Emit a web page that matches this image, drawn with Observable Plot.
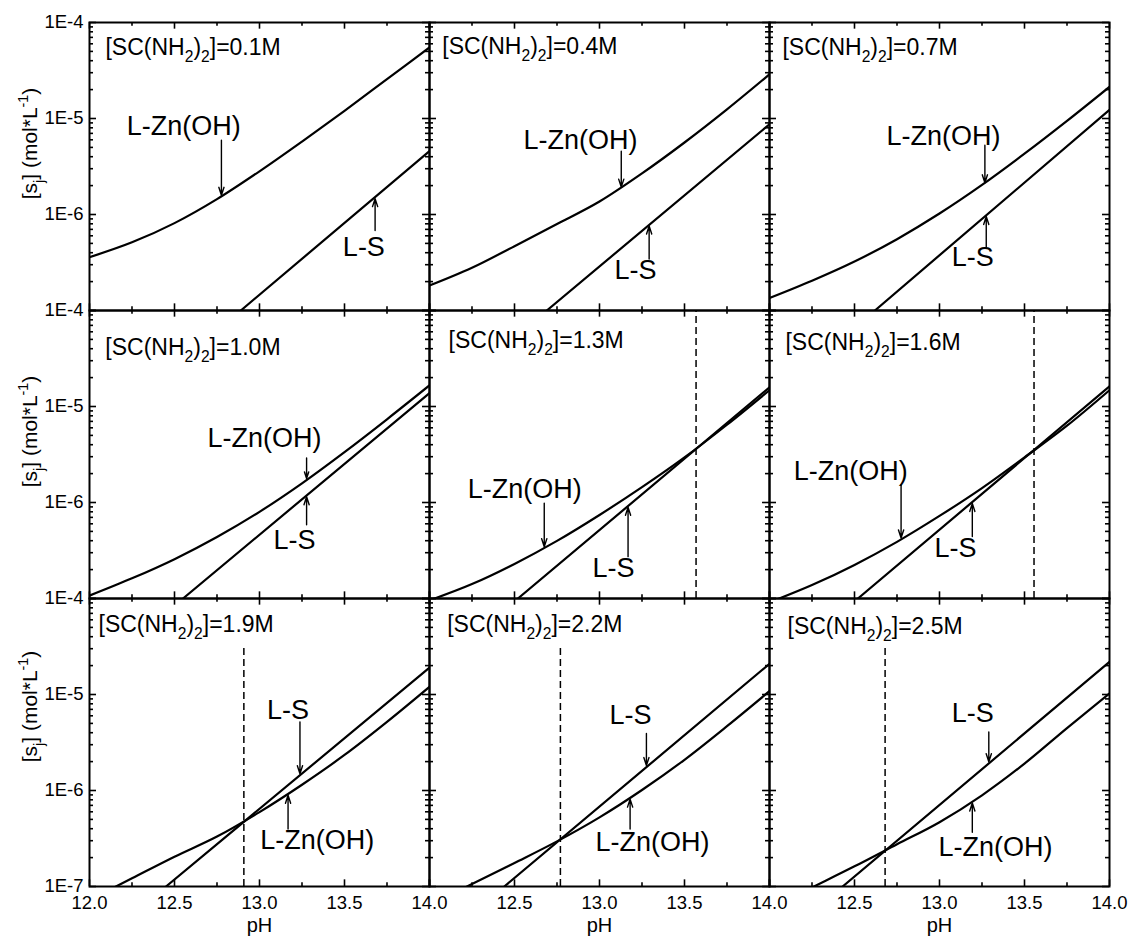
<!DOCTYPE html>
<html>
<head>
<meta charset="utf-8">
<script src="https://cdn.jsdelivr.net/npm/d3@7"></script>
<script src="https://cdn.jsdelivr.net/npm/@observablehq/plot@0.6"></script>
<style>
  html, body { margin: 0; padding: 0; background: #fff; }
  #chart { width: 1130px; height: 938px; }
</style>
</head>
<body>
<div id="chart"></div>
<script>
// ---------------- data ----------------
const concentrations = ["0.1", "0.4", "0.7", "1.0", "1.3", "1.6", "1.9", "2.2", "2.5"]; // [SC(NH2)2], M
const phGrid = [12.0, 12.25, 12.5, 12.75, 13.0, 13.25, 13.5, 13.75, 14.0];

// log10 [s_j] of the L-Zn(OH) curve at phGrid, one array per panel
const znOH_01 = [-6.445, -6.29, -6.09, -5.84, -5.55, -5.24, -4.92, -4.59, -4.26];
const znOH_04 = [-6.74, -6.555, -6.33, -6.10, -5.865, -5.572, -5.25, -4.905, -4.54];
const znOH_07 = [-6.87, -6.69, -6.49, -6.257, -5.99, -5.692, -5.367, -5.025, -4.67];
const znOH_10 = [-6.97, -6.79, -6.59, -6.359, -6.097, -5.80, -5.475, -5.133, -4.78];
const znOH_13 = [-7.02, -6.85, -6.64, -6.40, -6.13, -5.84, -5.53, -5.19, -4.83];
const znOH_16 = [-7.04, -6.86, -6.65, -6.41, -6.14, -5.85, -5.53, -5.20, -4.83];
const znOH_19 = [-7.14, -6.915, -6.69, -6.48, -6.225, -5.94, -5.63, -5.285, -4.92];
const znOH_22 = [-7.19, -6.975, -6.755, -6.53, -6.28, -5.995, -5.68, -5.33, -4.965];
const znOH_25 = [-7.23, -7.01, -6.79, -6.56, -6.33, -6.05, -5.72, -5.35, -4.99];
const znOHSeries = [znOH_01, znOH_04, znOH_07, znOH_10, znOH_13, znOH_16, znOH_19, znOH_22, znOH_25];

// L-S line: pH where it enters at 1E-7, and log10 value at pH 14
const lsStartPH = [12.89, 12.69, 12.62, 12.55, 12.52, 12.52, 12.45, 12.44, 12.43];
const lsLogAt14 = [-5.34, -5.06, -4.91, -4.86, -4.80, -4.79, -4.72, -4.68, -4.66];

// dashed verticals at the crossing points (panel index, pH, log10 top)
const dashPanel = [4, 5, 6, 7, 8];
const dashPH = [13.568, 13.556, 12.908, 12.77, 12.68];
const dashTopLog = [-4.0, -4.0, -4.52, -4.52, -4.48];

// annotations (data coordinates: pH, log10 [s_j])
const titlePH  = [12.094, 12.075, 12.076, 12.093, 12.112, 12.094, 12.053, 12.104, 12.106];
const titleLog = [-4.261, -4.251, -4.261, -4.387, -4.313, -4.334, -4.272, -4.272, -4.293];

const znLabelPH  = [12.555, 12.888, 13.024, 13.029, 12.56, 12.478, 13.339, 13.312, 13.329];
const znLabelLog = [-5.087, -5.226, -5.191, -5.327, -5.867, -5.675, -6.522, -6.539, -6.591];
const znArrowPH   = [12.776, 13.128, 13.267, 13.277, 12.675, 12.774, 13.168, 13.18, 13.193];
const znArrowTail = [-5.226, -5.341, -5.278, -5.536, -6.006, -5.815, -6.401, -6.401, -6.435];
const znArrowTip  = [-5.80, -5.715, -5.67, -5.75, -6.46, -6.37, -6.05, -6.09, -6.13];

const lsLabelPH  = [13.614, 13.212, 13.196, 13.206, 13.082, 13.094, 13.168, 13.183, 13.196];
const lsLabelLog = [-6.34, -6.584, -6.445, -6.396, -6.685, -6.476, -5.163, -5.215, -5.198];
const lsArrowPH   = [13.68, 13.292, 13.275, 13.277, 13.168, 13.193, 13.238, 13.276, 13.29];
const lsArrowTail = [-6.166, -6.463, -6.341, -6.232, -6.564, -6.354, -5.285, -5.407, -5.39];
const lsArrowTip  = [-5.835, -6.12, -6.02, -5.94, -6.05, -6.01, -5.825, -5.74, -5.70];

// ticks
const xMajor = [12.0, 12.5, 13.0, 13.5, 14.0];
const xTickLabels = ["12.0", "12.5", "13.0", "13.5", "14.0"];
const xMinor = [12.25, 12.75, 13.25, 13.75];
const yMajor = [1e-7, 1e-6, 1e-5, 1e-4];
const yTickLabels = ["1E-7", "1E-6", "1E-5", "1E-4"];
const yMinor = [-7, -6, -5].flatMap(e => [2, 3, 4, 5, 6, 7, 8, 9].map(k => k * Math.pow(10, e)));
const yAxisTitle = "[s_{j}] (mol*L^{-1})";
const xAxisTitle = "pH";

// ---------------- layout ----------------
const W = 1130, H = 938;
const M = {left: 89, right: 21, top: 21, bottom: 52};
const panelW = (W - M.left - M.right) / 3;
const panelH = (H - M.top - M.bottom) / 3;

// ---------------- tables ----------------
const panels = concentrations.map((c, i) => ({i, col: i % 3, row: Math.floor(i / 3)}));

const curveRows = [];
panels.forEach(p => {
  phGrid.forEach((ph, k) => curveRows.push({...p, key: p.i + "-zn", ph, s: Math.pow(10, znOHSeries[p.i][k])}));
  curveRows.push({...p, key: p.i + "-ls", ph: lsStartPH[p.i], s: 1e-7});
  curveRows.push({...p, key: p.i + "-ls", ph: 14.0, s: Math.pow(10, lsLogAt14[p.i])});
});

const dashRows = dashPanel.map((pi, k) => ({...panels[pi], ph: dashPH[k], y1: 1e-7, y2: Math.pow(10, dashTopLog[k])}));

const titleRows = panels.map(p => ({...p, ph: titlePH[p.i], s: Math.pow(10, titleLog[p.i]),
  text: `[SC(NH_{2})_{2}]=${concentrations[p.i]}M`}));

const labelRows = panels.flatMap(p => [
  {...p, ph: znLabelPH[p.i], s: Math.pow(10, znLabelLog[p.i]), text: "L-Zn(OH)"},
  {...p, ph: lsLabelPH[p.i], s: Math.pow(10, lsLabelLog[p.i]), text: "L-S"}
]);

const arrowRows = panels.flatMap(p => [
  {...p, ph: znArrowPH[p.i], tail: Math.pow(10, znArrowTail[p.i]), tip: Math.pow(10, znArrowTip[p.i])},
  {...p, ph: lsArrowPH[p.i], tail: Math.pow(10, lsArrowTail[p.i]), tip: Math.pow(10, lsArrowTip[p.i])}
]);

const perPanel = values => panels.flatMap(p => values.map(v => ({...p, v})));

const xTickRows = [0, 1, 2].flatMap(col =>
  xMajor.map((v, k) => ({col, row: 2, v, label: xTickLabels[k]})).filter(d => col === 0 || d.v !== 12.0));

const yTickRows = [0, 1, 2].flatMap(row =>
  yMajor.map((v, k) => ({col: 0, row, v, label: yTickLabels[k]})).filter(d => row === 2 || d.v !== 1e-7));

const xTitleRows = [0, 1, 2].map(col => ({col, row: 2, text: xAxisTitle}));

// ---------------- chart ----------------
const font = "'Liberation Sans', Arial, Helvetica, sans-serif";
const tk = {fx: "col", fy: "row", stroke: "#000", strokeWidth: 1.6};
const MAJ = 7, MIN = 4;

const chart = Plot.plot({
  width: W,
  height: H,
  marginLeft: M.left,
  marginRight: M.right,
  marginTop: M.top,
  marginBottom: M.bottom,
  style: {fontFamily: font, fontSize: "18.5px", background: "#fff", color: "#000", overflow: "visible"},
  fx: {domain: [0, 1, 2], padding: 0, axis: null},
  fy: {domain: [0, 1, 2], padding: 0, axis: null},
  x: {domain: [12, 14], axis: null},
  y: {type: "log", domain: [1e-7, 1e-4], axis: null},
  marks: [
    Plot.line(curveRows, {x: "ph", y: "s", z: "key", fx: "col", fy: "row", curve: "monotone-x",
      stroke: "#000", strokeWidth: 2.2, clip: true}),
    Plot.ruleX(dashRows, {x: "ph", y1: "y1", y2: "y2", fx: "col", fy: "row",
      stroke: "#000", strokeWidth: 1.5, strokeDasharray: "7,4"}),
    Plot.arrow(arrowRows, {x1: "ph", x2: "ph", y1: "tail", y2: "tip", fx: "col", fy: "row",
      stroke: "#000", strokeWidth: 1.4, headLength: 9, headAngle: 36}),
    Plot.text(labelRows, {x: "ph", y: "s", text: "text", fx: "col", fy: "row",
      fontSize: 27, textAnchor: "middle", lineAnchor: "middle", fill: "#000"}),
    Plot.text(titleRows, {x: "ph", y: "s", text: "text", fx: "col", fy: "row",
      fontSize: 23, textAnchor: "start", lineAnchor: "middle", fill: "#000"}),

    // inward ticks on all four sides of each panel
    Plot.tickX(perPanel(xMajor), {...tk, x: "v", insetTop: panelH - MAJ}),
    Plot.tickX(perPanel(xMinor), {...tk, x: "v", insetTop: panelH - MIN}),
    Plot.tickX(perPanel(xMajor), {...tk, x: "v", insetBottom: panelH - MAJ}),
    Plot.tickX(perPanel(xMinor), {...tk, x: "v", insetBottom: panelH - MIN}),
    Plot.tickY(perPanel(yMajor), {...tk, y: "v", insetRight: panelW - MAJ}),
    Plot.tickY(perPanel(yMinor), {...tk, y: "v", insetRight: panelW - MIN}),
    Plot.tickY(perPanel(yMajor), {...tk, y: "v", insetLeft: panelW - MAJ}),
    Plot.tickY(perPanel(yMinor), {...tk, y: "v", insetLeft: panelW - MIN}),

    Plot.frame({stroke: "#000", strokeWidth: 2}),

    // tick labels and axis titles
    Plot.text(xTickRows, {x: "v", text: "label", fx: "col", fy: "row", frameAnchor: "bottom",
      lineAnchor: "top", dy: 9, fontSize: 18.5, fill: "#000"}),
    Plot.text(yTickRows, {y: "v", text: "label", fx: "col", fy: "row", frameAnchor: "left",
      textAnchor: "end", lineAnchor: "middle", dx: -6, fontSize: 18.5, fill: "#000"}),
    Plot.text(xTitleRows, {text: "text", fx: "col", fy: "row", frameAnchor: "bottom",
      lineAnchor: "top", dy: 31, fontSize: 20, fill: "#000"}),
    Plot.text([{col: 0, row: 0}, {col: 0, row: 1}], {text: () => yAxisTitle, fx: "col", fy: "row",
      frameAnchor: "left", rotate: -90, dx: -59, dy: -23, textAnchor: "middle", lineAnchor: "middle",
      fontSize: 21, fill: "#000"}),
    Plot.text([{col: 0, row: 2}], {text: () => yAxisTitle, fx: "col", fy: "row",
      frameAnchor: "left", rotate: -90, dx: -59, dy: -36, textAnchor: "middle", lineAnchor: "middle",
      fontSize: 21, fill: "#000"})
  ]
});

document.getElementById("chart").append(chart);

// sub/superscripts: rewrite _{..} and ^{..} into tspans
function richify(root) {
  const NS = "http://www.w3.org/2000/svg";
  root.querySelectorAll("text").forEach(t => {
    const s = t.textContent;
    if (!/[_^]\{/.test(s)) return;
    const fs = parseFloat(getComputedStyle(t).fontSize);
    while (t.firstChild) t.removeChild(t.firstChild);
    let cur = 0, last = 0, m;
    const re = /([_^])\{([^}]*)\}/g;
    const add = (str, kind) => {
      if (!str) return;
      const ts = document.createElementNS(NS, "tspan");
      const target = kind === "_" ? 0.3 * fs : kind === "^" ? -0.42 * fs : 0;
      if (target !== cur) ts.setAttribute("dy", (target - cur).toFixed(2));
      cur = target;
      if (kind) ts.setAttribute("font-size", (0.68 * fs).toFixed(1));
      ts.textContent = str;
      t.appendChild(ts);
    };
    while ((m = re.exec(s))) {
      add(s.slice(last, m.index), null);
      add(m[2], m[1]);
      last = re.lastIndex;
    }
    add(s.slice(last), null);
  });
}
richify(chart);
</script>
</body>
</html>
